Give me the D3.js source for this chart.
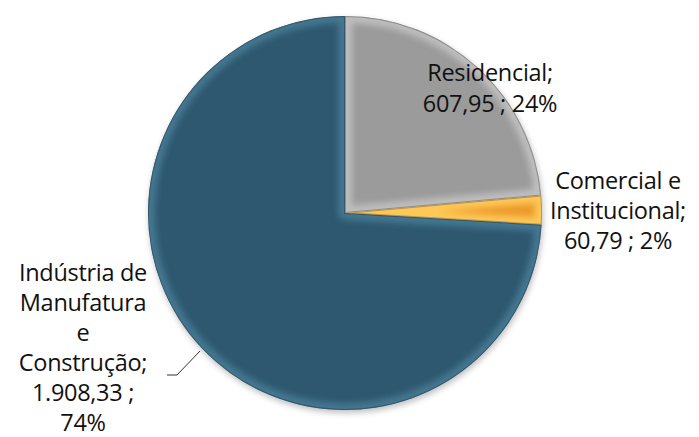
<!DOCTYPE html>
<html>
<head>
<meta charset="utf-8">
<script src="https://cdn.jsdelivr.net/npm/d3@7"></script>
<style>
  html, body { margin: 0; padding: 0; background: #fff; }
  svg { display: block; }
  text { font-family: "Open Sans", "Noto Sans", sans-serif; fill: #111; }
</style>
</head>
<body>
<svg id="chart" width="699" height="437"></svg>
<script>
// Consumo por setor
const sectors = ["Residencial", "Comercial e Institucional", "Indústria de Manufatura e Construção"];
const values = [607.95, 60.79, 1908.33];
const percents = ["24%", "2%", "74%"];
const valueLabels = ["607,95", "60,79", "1.908,33"];
const labelLines = [
  ["Residencial;", "607,95 ; 24%"],
  ["Comercial e", "Institucional;", "60,79 ; 2%"],
  ["Indústria de", "Manufatura", "e", "Construção;", "1.908,33 ;", "74%"]
];
const baseColors = ["#9b9b9b", "#ee9a2c", "#2e5870"];
const rimColors = ["#c4c4c4", "#ffd060", "#4a7d96"];

const svg = d3.select("#chart");
const cx = 345, cy = 213, R = 197;

const defs = svg.append("defs");
defs.append("filter").attr("id", "soft")
  .attr("x", "-20%").attr("y", "-20%").attr("width", "140%").attr("height", "140%")
  .append("feGaussianBlur").attr("stdDeviation", 3);
const shadow = defs.append("filter").attr("id", "shadow")
  .attr("x", "-20%").attr("y", "-20%").attr("width", "140%").attr("height", "140%");
shadow.append("feGaussianBlur").attr("in", "SourceAlpha").attr("stdDeviation", 3);

const pie = d3.pie().sort(null).value(d => d)(values);
const arc = d3.arc().innerRadius(0).outerRadius(R);

const g = svg.append("g").attr("transform", `translate(${cx},${cy})`);

// soft shadow under the disc
g.append("circle").attr("cx", 1).attr("cy", 3).attr("r", R)
  .attr("fill", "#000").attr("opacity", 0.25).attr("filter", "url(#shadow)");

pie.forEach((d, i) => {
  const id = "clip" + i;
  defs.append("clipPath").attr("id", id)
    .append("path").attr("d", arc(d)).attr("transform", `translate(${cx},${cy})`);
  const sg = svg.append("g").attr("clip-path", `url(#${id})`)
    .append("g").attr("transform", `translate(${cx},${cy})`);
  sg.append("path").attr("d", arc(d)).attr("fill", baseColors[i]);
  // bevelled rim
  sg.append("path").attr("d", arc(d))
    .attr("fill", "none").attr("stroke", rimColors[i]).attr("stroke-width", 14)
    .attr("stroke-linejoin", "round").attr("filter", "url(#soft)").attr("opacity", 0.85);
  sg.append("path").attr("d", arc(d))
    .attr("fill", "none").attr("stroke", "#000").attr("stroke-width", 2)
    .attr("opacity", 0.25);
});

// labels
function drawLabel(lines, x, yFirst, step) {
  const t = svg.append("text").attr("text-anchor", "middle")
    .attr("font-size", 23.5).attr("letter-spacing", -0.3);
  lines.forEach((s, k) => {
    t.append("tspan").attr("x", x).attr("y", yFirst + k * step).text(s);
  });
}
drawLabel(labelLines[0], 490, 81, 31);
drawLabel(labelLines[1], 618, 189, 30);
drawLabel(labelLines[2], 83, 281, 30);

// leader line for the manufacturing slice
svg.append("polyline")
  .attr("points", "167,375 177,375 200,351")
  .attr("fill", "none").attr("stroke", "#333").attr("stroke-width", 1);
</script>
</body>
</html>
